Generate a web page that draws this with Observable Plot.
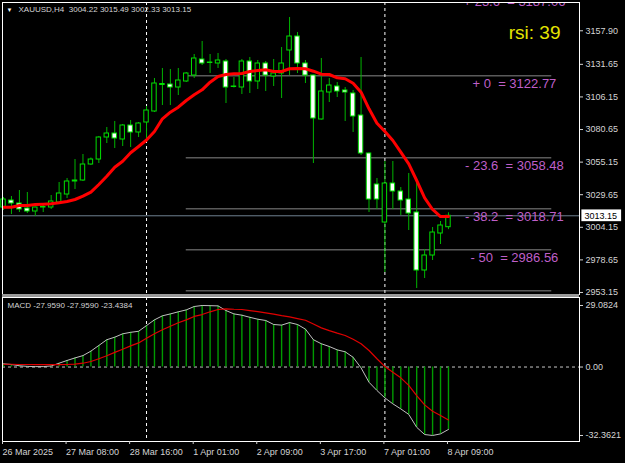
<!DOCTYPE html>
<html><head><meta charset="utf-8">
<script src="https://cdn.jsdelivr.net/npm/d3@7"></script>
<script src="https://cdn.jsdelivr.net/npm/@observablehq/plot@0.6"></script>
<style>
html,body{margin:0;padding:0;background:#000;}
#wrap{position:relative;width:625px;height:463px;background:#000;overflow:hidden;}
#wrap svg{position:absolute;left:0;overflow:visible;}
svg text{white-space:pre;}
#split{position:absolute;left:2px;width:577px;top:294px;height:3px;background:#9a9a9a;}
</style></head><body><div id="wrap"></div>
<script>
const titleText = "XAUUSD,H4  3004.22 3015.49 3002.33 3013.15";
const macdTitle = "MACD -27.9590 -27.9590 -23.4384";
const rsiText = "rsi: 39";

const open  = [3019.63,3025.11,3022.76,3018.85,3016.50,3019.63,3019.63,3023.55,3029.81,3039.98,3040.76,3053.28,3057.18,3074.40,3077.53,3072.84,3083.80,3078.32,3086.14,3094.75,3115.49,3115.88,3113.53,3118.23,3122.92,3135.44,3133.09,3132.31,3133.88,3113.92,3113.53,3133.88,3118.23,3132.31,3122.14,3124.49,3142.49,3153.44,3132.31,3122.92,3088.49,3109.62,3114.31,3111.19,3108.84,3091.62,3061.89,3037.63,3007.89,3038.41,3032.15,3025.89,3015.72,2970.34,2982.07,2999.29,3004.22];
const high  = [3027.46,3028.24,3032.93,3031.37,3020.00,3021.20,3029.02,3039.19,3042.33,3057.18,3061.10,3058.36,3075.19,3082.23,3086.93,3084.58,3087.71,3086.14,3098.66,3120.58,3128.40,3127.62,3128.40,3125.27,3139.35,3149.53,3139.35,3140.14,3135.44,3121.36,3135.44,3137.01,3134.66,3133.88,3135.44,3144.83,3168.31,3156.57,3134.66,3123.20,3136.23,3120.58,3117.44,3113.53,3111.19,3137.01,3062.28,3042.33,3055.62,3055.62,3035.28,3046.24,3039.19,2986.77,3003.98,3008.68,3015.49];
const low   = [3017.28,3014.16,3015.72,3014.94,3012.59,3015.72,3018.07,3022.76,3026.68,3033.72,3039.98,3052.50,3054.06,3069.71,3065.81,3067.36,3066.58,3074.40,3073.62,3093.97,3099.45,3099.45,3107.27,3117.44,3120.58,3130.75,3124.49,3128.40,3101.01,3113.14,3108.05,3108.84,3111.97,3110.40,3114.31,3104.92,3122.92,3124.49,3116.66,3054.06,3088.10,3101.79,3105.71,3086.93,3078.32,3060.32,3015.72,3018.07,2968.77,3018.07,3013.37,3001.63,2956.25,2964.07,2978.16,2990.68,3002.33];
const close = [3025.89,3022.76,3018.07,3016.50,3019.63,3020.02,3024.33,3030.59,3039.98,3040.76,3053.28,3057.18,3074.40,3077.53,3073.62,3083.80,3078.32,3085.36,3095.53,3116.66,3116.27,3113.53,3119.01,3124.49,3136.23,3132.31,3132.70,3134.66,3113.53,3114.31,3133.88,3118.23,3132.31,3122.92,3124.49,3132.31,3153.44,3132.31,3122.92,3089.28,3110.40,3115.10,3110.40,3109.62,3090.84,3061.89,3025.89,3025.89,3038.41,3032.15,3025.11,3014.94,2970.34,2982.07,3000.07,3005.55,3013.15];
const ma    = [3019.87,3019.87,3021.20,3021.20,3021.98,3022.22,3022.53,3023.31,3024.33,3025.89,3028.47,3031.61,3037.63,3044.12,3051.17,3055.86,3062.44,3067.36,3072.45,3079.10,3089.04,3094.20,3098.12,3103.36,3107.82,3111.73,3117.68,3122.14,3123.70,3124.25,3124.49,3126.05,3126.83,3127.38,3126.05,3126.05,3128.17,3128.40,3128.17,3126.29,3123.94,3123.70,3121.12,3120.34,3116.90,3109.85,3096.86,3085.60,3079.10,3072.06,3062.90,3053.83,3040.76,3027.22,3018.07,3012.59,3012.59];
const macd  = [1.5,1.2,0.6,0.3,0.2,0.2,0.5,1.8,3.1,4.3,5.4,7.5,10.2,12.9,14.1,15.7,16.4,16.9,19.6,22.3,24.2,25.1,26.1,27.0,28.6,29.08,29.0,28.9,26.7,25.1,24.5,23.5,22.6,22.0,20.1,19.8,21.0,20.1,17.9,12.9,11.0,9.7,8.1,7.2,4.6,-0.4,-7.2,-11.1,-14.6,-17.4,-19.8,-22.4,-28.5,-31.9,-32.36,-31.6,-29.5];
const signal= [1.3,1.3,1.2,1.2,1.1,1.1,1.1,1.1,1.2,1.4,1.8,2.6,3.9,5.3,6.9,8.4,10.0,11.4,13.6,15.7,17.6,19.3,20.9,22.3,23.9,24.8,26.1,27.2,27.5,27.3,27.2,26.7,26.2,25.6,25.0,24.3,23.7,22.9,22.1,20.3,18.5,17.2,16.0,14.9,13.1,11.0,7.8,3.9,0.2,-2.5,-5.1,-8.7,-13.5,-17.9,-20.9,-22.9,-25.0];

const timeTickIdx = [0,8,16,24,32,40,48,56];
const timeLabels = ["26 Mar 2025","27 Mar 08:00","28 Mar 16:00","1 Apr 01:00","2 Apr 09:00","3 Apr 17:00","7 Apr 01:00","8 Apr 09:00"];
const priceTicks = [3157.90,3131.65,3106.15,3080.65,3055.15,3029.65,3004.15,2978.65,2953.15];
const macdTicks = [29.0824,0,-32.3621];
const macdTickLabels = ["29.0824","0.00","-32.3621"];
const weekSeparators = [18,48];
const fibPrice = [3187.06,3122.77,3058.48,3018.71,2986.56,2954.40];
const fibLabels = ["+ 23.6  = 3187.06","+ 0  = 3122.77","- 23.6  = 3058.48","- 38.2  = 3018.71","- 50  = 2986.56","- 61.8  = 2954.40"];
const fibFrom = 23, fibTo = 69, fibLabelAt = 64.3;

const xDomain = [-0.126, 72.49];
const priceDomain = [2951.56, 3180.04];
const macdDomain = [-35.20, 32.86];

const FONT = "Liberation Sans, Arial, sans-serif";
const candles = open.map((o,i)=>({i, o, h:high[i], l:low[i], c:close[i], bull: close[i] >= o}));
const idx = d3.range(open.length);
const last = close[close.length-1];
// price-axis marker box: width in candle units, half-height in price units
const boxW = 5.0, boxHalf = 4.6;

const main = Plot.plot({
  width: 625, height: 296,
  marginTop: 2, marginBottom: 2, marginLeft: 2, marginRight: 46,
  style: {background: "black", color: "#d4d4d4", fontFamily: FONT, fontSize: "9px", overflow: "visible"},
  x: {domain: xDomain, axis: null},
  y: {domain: priceDomain, axis: null},
  marks: [
    Plot.ruleY(fibPrice, {x1: fibFrom, x2: fibTo, stroke: "#5a5a5a", strokeWidth: 1.5, clip: true}),
    Plot.ruleY([last], {stroke: "#6f8090", strokeWidth: 1}),
    Plot.ruleX(weekSeparators, {stroke: "white", strokeDasharray: "3,3"}),
    Plot.ruleX(candles, {x: "i", y1: "l", y2: "h", stroke: "#00b400", strokeWidth: 1, clip: true}),
    Plot.rect(candles, {x1: d=>d.i-0.28, x2: d=>d.i+0.28, y1: d=>Math.min(d.o,d.c), y2: d=>Math.max(d.o,d.c),
      fill: d=>d.bull ? "#000" : "#fff", stroke: "#00e000", strokeWidth: 1}),
    Plot.line(ma, {x: (d,i)=>i, y: d=>d, stroke: "#ff0000", strokeWidth: 3}),
    Plot.text(fibPrice, {x: fibLabelAt, y: d=>d, text: (d,i)=>fibLabels[i], dy: 8, fill: "#bf5fc8", fontSize: 13, clip: true}),
    Plot.text([titleText], {frameAnchor: "top-left", dx: 16, dy: 4, fill: "#d4d4d4", fontSize: 8}),
    Plot.text(["▼"], {frameAnchor: "top-left", dx: 4, dy: 5, fill: "white", fontSize: 6}),
    Plot.text([rsiText], {frameAnchor: "top-right", dx: -19, dy: 23, fill: "#e5e500", fontSize: 19}),
    Plot.frame({stroke: "white"}),
    Plot.axisY(priceTicks, {anchor: "right", tickFormat: d=>d.toFixed(2), tickSize: 3, tickPadding: 3, fontSize: 9, label: null}),
    // current price marker on the price axis
    Plot.rect([last], {x1: xDomain[1] + 0.3, x2: xDomain[1] + 0.3 + boxW, y1: d=>d-boxHalf, y2: d=>d+boxHalf, fill: "white"}),
    Plot.text([last], {frameAnchor: "right", y: d=>d, dx: 5, textAnchor: "start", text: d=>d.toFixed(2), fill: "black", fontSize: 9})
  ]
});

const sub = Plot.plot({
  width: 625, height: 167,
  marginTop: 1, marginBottom: 22, marginLeft: 2, marginRight: 46,
  style: {background: "black", color: "#d4d4d4", fontFamily: FONT, fontSize: "9px"},
  x: {domain: xDomain, axis: null},
  y: {domain: macdDomain, axis: null},
  marks: [
    Plot.ruleY([0], {stroke: "#c8c8c8", strokeDasharray: "3,3"}),
    Plot.ruleX(weekSeparators, {stroke: "white", strokeDasharray: "3,3"}),
    Plot.ruleX(idx, {x: i=>i, y1: 0, y2: i=>macd[i], stroke: "#009a00", strokeWidth: 1.4}),
    Plot.line(macd, {x: (d,i)=>i, y: d=>d, stroke: "#c0c0c0", strokeWidth: 1}),
    Plot.line(signal, {x: (d,i)=>i, y: d=>d, stroke: "#e00000", strokeWidth: 1.2}),
    Plot.text([macdTitle], {frameAnchor: "top-left", dx: 5, dy: 5, fill: "#d4d4d4", fontSize: 8}),
    Plot.frame({stroke: "white"}),
    Plot.axisY(macdTicks, {anchor: "right", tickFormat: d=>macdTickLabels[macdTicks.indexOf(d)], tickSize: 3, tickPadding: 3, fontSize: 9, label: null}),
    Plot.axisX(timeTickIdx, {anchor: "bottom", tickFormat: d=>timeLabels[timeTickIdx.indexOf(d)], textAnchor: "start", dx: -1, tickSize: 3, tickPadding: 4, fontSize: 9, label: null})
  ]
});

const wrap = document.getElementById("wrap");
main.style.top = "0px";
sub.style.top = "296px";
wrap.appendChild(main);
wrap.appendChild(sub);

const split = document.createElement("div");
split.id = "split";
wrap.appendChild(split);
</script></body></html>
